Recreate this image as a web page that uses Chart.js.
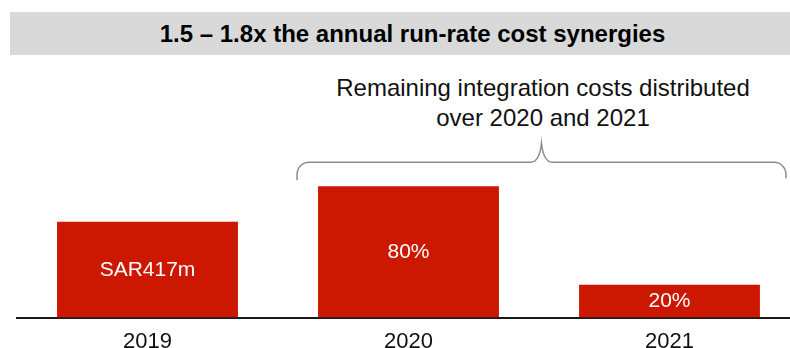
<!DOCTYPE html>
<html>
<head>
<meta charset="utf-8">
<script src="https://cdn.jsdelivr.net/npm/chart.js@4/dist/chart.umd.min.js"></script>
<style>
  html, body { margin: 0; padding: 0; width: 790px; height: 348px; overflow: hidden; background: #fff; }
  #titlebar { position: absolute; left: 10px; top: 12px; width: 805px; height: 43px; background: #d9d9d9;
    font-family: "Liberation Sans", Arial, sans-serif; font-weight: bold; font-size: 24px; color: #000;
    text-align: center; line-height: 43px; }
  #note { position: absolute; left: 293px; top: 73px; width: 500px; text-align: center; white-space: nowrap;
    font-family: "Liberation Sans", Arial, sans-serif; font-size: 24px; line-height: 30px; color: #111; }
  #wrap { position: absolute; left: 0; top: 0; width: 802px; height: 366px; }
</style>
</head>
<body>
<div id="titlebar">1.5 – 1.8x the annual run-rate cost synergies</div>
<div id="note">Remaining integration costs distributed<br>over 2020 and 2021</div>
<div id="wrap"><canvas id="c" width="802" height="366"></canvas></div>
<script>
const categories = ["2019", "2020", "2021"];
const costValues = [417, 572, 143];
const barLabels = ["SAR417m", "80%", "20%"];

const barLabelPlugin = {
  id: "barLabels",
  afterDatasetsDraw(chart) {
    const ctx = chart.ctx;
    const meta = chart.getDatasetMeta(0);
    ctx.save();
    ctx.fillStyle = "#ffffff";
    ctx.font = "21px 'Liberation Sans', Arial, sans-serif";
    ctx.textAlign = "center";
    ctx.textBaseline = "middle";
    meta.data.forEach((bar, i) => {
      ctx.fillText(barLabels[i], bar.x, (bar.y + bar.base) / 2);
    });
    ctx.restore();
  }
};

const bracePlugin = {
  id: "brace",
  afterDatasetsDraw(chart) {
    const ctx = chart.ctx;
    const meta = chart.getDatasetMeta(0);
    const b1 = meta.data[1], b2 = meta.data[2];
    const left = b1.x - b1.width / 2 - 21;
    const right = b2.x + b2.width / 2 + 26;
    const mid = (left + right) / 2;
    const yh = b1.y - 24, yEnd = b1.y - 6, yTip = b1.y - 43;
    const r = 12;
    ctx.save();
    ctx.strokeStyle = "#8c8c8c";
    ctx.lineWidth = 1.5;
    ctx.beginPath();
    ctx.moveTo(left, yEnd);
    ctx.lineTo(left, yh + r);
    ctx.arcTo(left, yh, left + r, yh, r);
    ctx.lineTo(mid - 11, yh);
    ctx.quadraticCurveTo(mid - 2, yh, mid, yTip);
    ctx.quadraticCurveTo(mid + 2, yh, mid + 11, yh);
    ctx.lineTo(right - r, yh);
    ctx.arcTo(right, yh, right, yh + r, r);
    ctx.lineTo(right, yEnd - 2);
    ctx.stroke();
    ctx.restore();
  }
};

new Chart(document.getElementById("c"), {
  type: "bar",
  data: {
    labels: categories,
    datasets: [{
      data: costValues,
      backgroundColor: "#cc1800",
      borderWidth: 0,
      categoryPercentage: 1.0,
      barPercentage: 0.693
    }]
  },
  options: {
    responsive: false,
    animation: false,
    events: [],
    layout: { padding: { left: 17, right: 2, top: 88, bottom: 0 } },
    plugins: { legend: { display: false }, tooltip: { enabled: false }, title: { display: false } },
    scales: {
      x: {
        grid: { display: false, drawTicks: false },
        border: { display: true, color: "#1a1a1a", width: 2 },
        ticks: { color: "#111", padding: 11, font: { family: "'Liberation Sans', Arial, sans-serif", size: 22 } }
      },
      y: {
        display: false,
        min: 0,
        max: 1000
      }
    }
  },
  plugins: [barLabelPlugin, bracePlugin]
});
</script>
</body>
</html>
